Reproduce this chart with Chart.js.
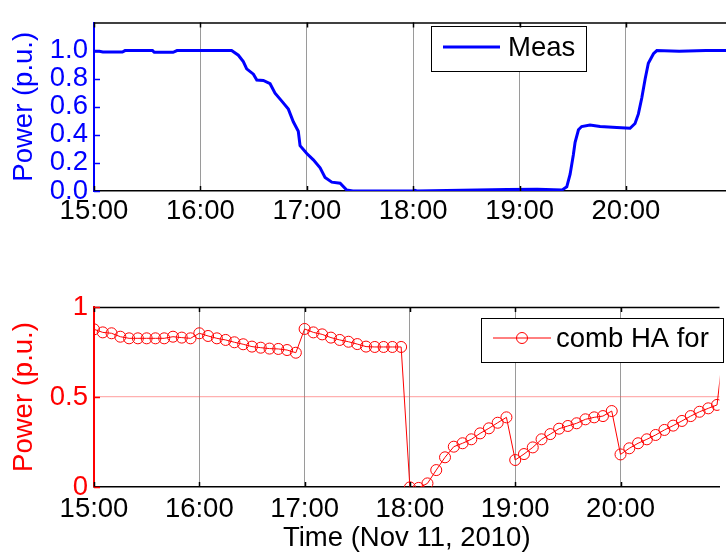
<!DOCTYPE html>
<html><head><meta charset="utf-8">
<script src="https://cdn.jsdelivr.net/npm/chart.js@4/dist/chart.umd.min.js"></script>
<style>
html,body{margin:0;padding:0;background:#fff;overflow:hidden;width:726px;height:556px}
canvas{position:absolute;left:0}
#c1{top:0}#c2{top:278px}
</style></head>
<body>
<canvas id="c1" width="726" height="278"></canvas>
<canvas id="c2" width="726" height="278"></canvas>
<script>
// ---- data ----
const hourTicks = [0, 60, 120, 180, 240, 300];           // minutes after 15:00
const hourLabels = ['15:00', '16:00', '17:00', '18:00', '19:00', '20:00'];
const xTitle = 'Time (Nov 11, 2010)';
const yTitle = 'Power (p.u.)';

const measLabel = 'Meas';
const measMinutes = [0, 3, 5, 16, 17.5, 33, 34, 44.6, 46.8, 60, 71, 77.6, 81.4, 84.2, 86.1, 89.9, 91.8, 95.5, 99.3, 102.1,
  105.9, 109.6, 112.4, 115.2, 116.2, 120, 123.7, 127.5, 130.3, 134.1, 138.8, 142.5, 146, 180, 181, 182, 233, 250, 264,
  266.6, 268.5, 270.3, 271.3, 273.2, 275, 279.7, 285.4, 294.8, 302.3, 305.1, 307, 308.9, 310.8, 312.6, 315.5, 317.4,
  330, 345, 360];
const measValues = [0.995, 0.995, 0.99, 0.99, 1.0, 1.0, 0.988, 0.988, 1.0, 1.0, 1.0, 1.0, 0.967, 0.922, 0.87, 0.832, 0.79, 0.787, 0.764, 0.697,
  0.64, 0.583, 0.493, 0.425, 0.323, 0.267, 0.222, 0.165, 0.097, 0.063, 0.056, 0.007, 0.0, 0.0, 0.005, 0.0, 0.01, 0.012, 0.008,
  0.03, 0.12, 0.256, 0.346, 0.436, 0.459, 0.47, 0.459, 0.452, 0.447, 0.481, 0.549, 0.662, 0.798, 0.91, 0.978, 1.0,
  0.995, 1.0, 1.0];

const fcLabel = 'comb HA for';
const fcMinutes = [0, 5, 10, 15, 20, 25, 30, 35, 40, 45, 50, 55,
  60, 65, 70, 75, 80, 85, 90, 95, 100, 105, 110, 115,
  120, 125, 130, 135, 140, 145, 150, 155, 160, 165, 170, 175,
  180, 185, 190, 195, 200, 205, 210, 215, 220, 225, 230, 235,
  240, 245, 250, 255, 260, 265, 270, 275, 280, 285, 290, 295,
  300, 305, 310, 315, 320, 325, 330, 335, 340, 345, 350, 355, 360];
const fcValues = [0.876, 0.859, 0.854, 0.835, 0.826, 0.826, 0.826, 0.826, 0.826, 0.835, 0.83, 0.826,
  0.854, 0.839, 0.826, 0.817, 0.804, 0.793, 0.78, 0.774, 0.769, 0.767, 0.761, 0.746,
  0.878, 0.859, 0.848, 0.83, 0.817, 0.807, 0.794, 0.78, 0.778, 0.778, 0.778, 0.778,
  -0.002, -0.005, 0.02, 0.094, 0.165, 0.224, 0.243, 0.265, 0.298, 0.326, 0.357, 0.387,
  0.15, 0.183, 0.22, 0.265, 0.294, 0.324, 0.339, 0.354, 0.376, 0.387, 0.394, 0.422,
  0.181, 0.215, 0.243, 0.265, 0.289, 0.317, 0.341, 0.367, 0.394, 0.418, 0.437, 0.456, 0.88];

const topYTicks = [0, 0.2, 0.4, 0.6, 0.8, 1.0];
const bottomYTicks = [0, 0.5, 1];
const refLineValue = 0.5;

// ---- drawing ----
const FONT = "'Liberation Sans', Arial, sans-serif";
const FS = 27.5;

const boxLegend = {
  id: 'boxLegend',
  afterDraw(chart, args, o) {
    const ctx = chart.ctx;
    const ds = chart.data.datasets[0];
    ctx.save();
    ctx.fillStyle = '#fff';
    ctx.fillRect(o.x, o.y, o.w, o.h);
    ctx.strokeStyle = '#000'; ctx.lineWidth = 1;
    ctx.strokeRect(o.x + 0.5, o.y + 0.5, o.w, o.h);
    ctx.strokeStyle = ds.borderColor; ctx.lineWidth = ds.borderWidth;
    ctx.beginPath(); ctx.moveTo(o.x1, o.ly); ctx.lineTo(o.x2, o.ly); ctx.stroke();
    if (ds.pointRadius > 0) {
      ctx.lineWidth = 1;
      ctx.beginPath(); ctx.arc((o.x1 + o.x2) / 2, o.ly, ds.pointRadius, 0, Math.PI * 2); ctx.stroke();
    }
    ctx.fillStyle = '#000';
    ctx.font = FS + 'px ' + FONT;
    ctx.textBaseline = 'middle';
    ctx.textAlign = 'left';
    ctx.fillText(ds.label, o.tx, o.ly + 1);
    ctx.restore();
  }
};

const spines = {
  id: 'spines',
  afterDraw(chart, args, o) {
    const ctx = chart.ctx, a = chart.chartArea;
    const xs = chart.scales.x, ys = chart.scales.y;
    ctx.save();
    ctx.strokeStyle = '#000'; ctx.lineWidth = 1.5;
    ctx.beginPath(); ctx.moveTo(a.left, a.top + 0.5); ctx.lineTo(a.right, a.top + 0.5); ctx.stroke();
    xs.ticks.forEach(t => {
      const px = Math.round(xs.getPixelForValue(t.value)) + 0.5;
      ctx.beginPath(); ctx.moveTo(px, a.top); ctx.lineTo(px, a.top + 5); ctx.stroke();
      ctx.beginPath(); ctx.moveTo(px, a.bottom); ctx.lineTo(px, a.bottom - 5); ctx.stroke();
    });
    ctx.strokeStyle = o.color;
    ys.ticks.forEach(t => {
      const py = Math.round(ys.getPixelForValue(t.value)) + 0.5;
      ctx.beginPath(); ctx.moveTo(a.left, py); ctx.lineTo(a.left + 6, py); ctx.stroke();
    });
    ctx.restore();
  }
};

function xScale(height, showTitle, pad) {
  return {
    type: 'linear', min: 0, max: 356.4,
    afterBuildTicks: s => { s.ticks = hourTicks.map(v => ({ value: v })); },
    afterFit: s => { s.height = height; },
    ticks: { color: '#000', font: { family: FONT, size: FS }, padding: pad, maxRotation: 0, autoSkip: false,
      callback: v => hourLabels[hourTicks.indexOf(v)] },
    grid: { display: true, color: '#9a9a9a', lineWidth: 1, drawTicks: false },
    border: { display: true, color: '#000', width: 1.5 },
    title: { display: showTitle, text: xTitle, color: '#000', font: { family: FONT, size: FS }, padding: { top: 0, bottom: 1 } }
  };
}

function yScale(min, max, tickVals, fmt, color, gridFn) {
  return {
    type: 'linear', min: min, max: max,
    afterBuildTicks: s => { s.ticks = tickVals.map(v => ({ value: v })); },
    afterFit: s => { s.width = 94; },
    ticks: { color: color, font: { family: FONT, size: FS }, padding: 6, autoSkip: false, callback: fmt },
    grid: gridFn ? { display: true, drawTicks: false, color: gridFn, lineWidth: 1.2 } : { display: false, drawTicks: false },
    border: { display: true, color: color, width: 2 },
    title: { display: true, text: yTitle, color: color, font: { family: FONT, size: FS }, padding: { top: 8, bottom: 0 } }
  };
}

Chart.register(boxLegend, spines);

new Chart(document.getElementById('c1'), {
  type: 'line',
  data: { datasets: [{
    label: measLabel,
    data: measMinutes.map((m, i) => ({ x: m, y: measValues[i] })),
    borderColor: '#0000ff', borderWidth: 3, pointRadius: 0, tension: 0, fill: false
  }] },
  options: {
    responsive: false, animation: false, devicePixelRatio: 1,
    layout: { padding: { top: 13, right: 0, left: 0, bottom: 0 } },
    plugins: {
      legend: { display: false }, tooltip: { enabled: false },
      boxLegend: { x: 431, y: 26, w: 155, h: 45, x1: 443, x2: 500, ly: 47, tx: 508 },
      spines: { color: '#0000ff' }
    },
    scales: {
      x: xScale(87, false, 4),
      y: yScale(0, 1.2, topYTicks, v => v.toFixed(1), '#0000ff', null)
    }
  }
});

new Chart(document.getElementById('c2'), {
  type: 'line',
  data: { datasets: [{
    label: fcLabel,
    data: fcMinutes.map((m, i) => ({ x: m, y: fcValues[i] })),
    borderColor: '#ff0000', borderWidth: 1, pointRadius: 5.5, pointBorderWidth: 1,
    pointBorderColor: '#ff0000', pointBackgroundColor: 'rgba(0,0,0,0)', tension: 0, fill: false
  }] },
  options: {
    responsive: false, animation: false, devicePixelRatio: 1,
    layout: { padding: { top: 29, right: 0, left: 0, bottom: 0 } },
    plugins: {
      legend: { display: false }, tooltip: { enabled: false },
      boxLegend: { x: 481, y: 40, w: 242, h: 44, x1: 493, x2: 551, ly: 60, tx: 556 },
      spines: { color: '#ff0000' }
    },
    scales: {
      x: xScale(69, true, 6),
      y: yScale(0, 1, bottomYTicks, v => String(v), '#ff0000',
        c => (c.tick && c.tick.value === refLineValue) ? 'rgba(255,80,80,0.45)' : 'rgba(0,0,0,0)')
    }
  }
});
</script>
</body></html>
